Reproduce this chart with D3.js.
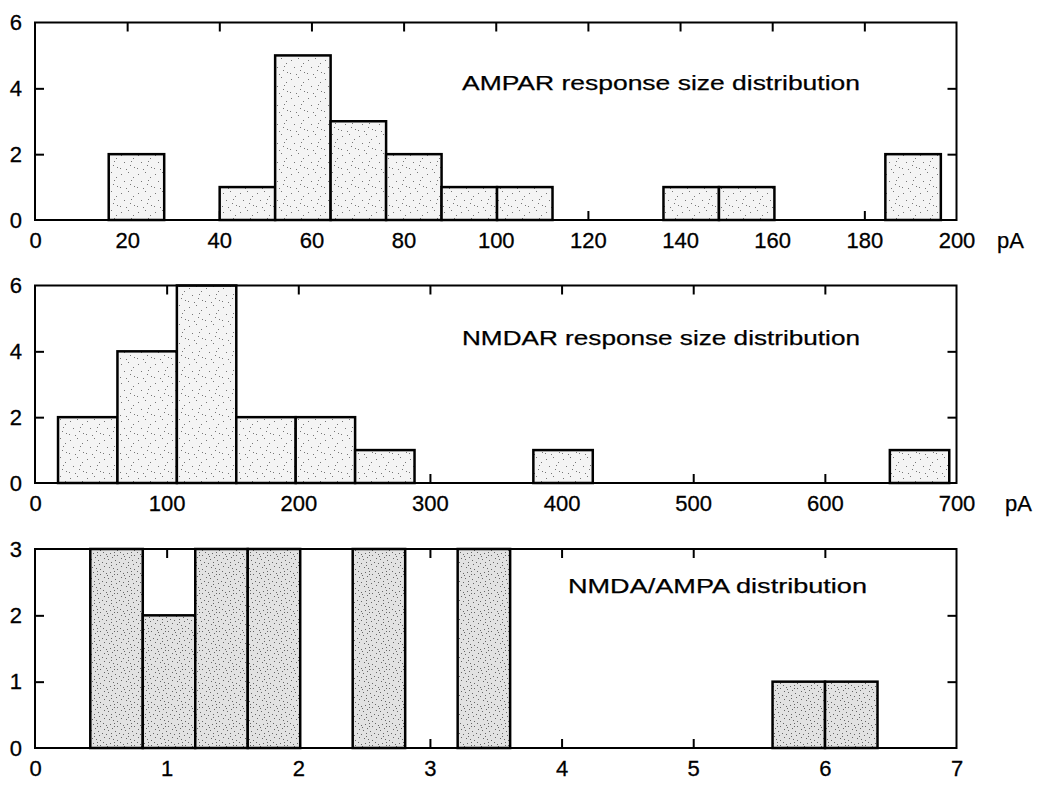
<!DOCTYPE html>
<html>
<head>
<meta charset="utf-8">
<script src="https://cdn.jsdelivr.net/npm/d3@7"></script>
<style>
  body { margin:0; background:#fff; }
  svg { display:block; }
  .tick text { font-family: "Liberation Sans", Arial, sans-serif; font-size:22px; fill:#000; stroke:#000; stroke-width:0.3px; }
  .ttl { font-family: "Liberation Sans", Arial, sans-serif; font-size:21px; fill:#000; stroke:#000; stroke-width:0.25px; }
</style>
</head>
<body>
<svg id="chart"></svg>
<script>
// histogram counts (15 bins each), bin range = [min, max] of the sample
var ampaCounts = [2,0,1,5,3,2,1,1,0,0,1,1,0,0,2];
var ampaRange = [16, 196.6];
var ampaTicksX = [0,20,40,60,80,100,120,140,160,180,200];
var ampaTicksY = [0,2,4,6];

var nmdaCounts = [2,4,6,2,2,1,0,0,1,0,0,0,0,0,1];
var nmdaRange = [17.5, 694.5];
var nmdaTicksX = [0,100,200,300,400,500,600,700];
var nmdaTicksY = [0,2,4,6];

var ratioCounts = [3,2,3,3,0,3,0,3,0,0,0,0,0,1,1];
var ratioRange = [0.42, 6.4];
var ratioTicksX = [0,1,2,3,4,5,6,7];
var ratioTicksY = [0,1,2,3];

var titles = ["AMPAR response size distribution", "NMDAR response size distribution", "NMDA/AMPA distribution"];
var unitLabel = "pA";

var W = 1048, H = 787;
var svg = d3.select("#chart").attr("width", W).attr("height", H);

// stipple fills
var defs = svg.append("defs");
function stipple(id, bg, dots, col){
    var p = defs.append("pattern").attr("id", id)
        .attr("patternUnits","userSpaceOnUse").attr("width",17).attr("height",19);
    p.append("rect").attr("width",17).attr("height",19).attr("fill",bg);
    dots.forEach(function(d){
        p.append("rect").attr("x",d[0]).attr("y",d[1]).attr("width",1).attr("height",1).attr("fill",col);
    });
}
var dotsLight = [[2,3],[9,1],[14,6],[5,10],[11,13],[1,16],[7,17],[15,15],[12,9]];
var dotsDense = [[1,1],[4,3],[8,2],[12,1],[15,4],[2,7],[6,8],[10,6],[13,9],[0,11],[4,12],[9,11],[14,13],[2,15],[7,16],[11,17],[15,18],[5,5],[9,14],[12,4]];
stipple("stipA", "#f4f4f4", dotsLight, "#777");
stipple("stipB", "#e2e2e2", dotsDense, "#666");

var left = 35, right = 956.5;
var fmt = d3.format("d");

function panel(top, height, counts, range, xTicks, yTicks, title, titleX, titleBase, titleLen, fillId, unit){
    var g = svg.append("g");
    var x = d3.scaleLinear().domain([xTicks[0], xTicks[xTicks.length-1]]).range([left, right]);
    var y = d3.scaleLinear().domain([yTicks[0], yTicks[yTicks.length-1]]).range([top+height, top]);

    var inner = xTicks.slice(1, -1), innerY = yTicks.slice(1, -1);
    // inside ticks all four sides
    g.append("g").attr("transform","translate(0,"+(top+height)+")")
        .call(d3.axisBottom(x).tickValues(xTicks).tickFormat(fmt).tickSize(-9).tickPadding(12))
        .call(function(a){ a.select(".domain").remove(); a.selectAll("line").attr("stroke","#000").attr("stroke-width",2)
            .filter(function(d){ return inner.indexOf(d) < 0; }).remove(); });
    g.append("g").attr("transform","translate(0,"+top+")")
        .call(d3.axisTop(x).tickValues(inner).tickSize(-9).tickFormat(""))
        .call(function(a){ a.select(".domain").remove(); a.selectAll("line").attr("stroke","#000").attr("stroke-width",2); });
    g.append("g").attr("transform","translate("+left+",0)")
        .call(d3.axisLeft(y).tickValues(yTicks).tickFormat(fmt).tickSize(-9).tickPadding(13))
        .call(function(a){ a.select(".domain").remove(); a.selectAll("line").attr("stroke","#000").attr("stroke-width",2)
            .filter(function(d){ return innerY.indexOf(d) < 0; }).remove(); });
    g.append("g").attr("transform","translate("+right+",0)")
        .call(d3.axisRight(y).tickValues(innerY).tickSize(-9).tickFormat(""))
        .call(function(a){ a.select(".domain").remove(); a.selectAll("line").attr("stroke","#000").attr("stroke-width",2); });
    g.selectAll(".tick text").attr("font-family", null).attr("font-size", null);

    // bins
    var n = counts.length, w = (range[1]-range[0])/n;
    var bins = counts.map(function(c,i){ return {x0: range[0]+i*w, x1: range[0]+(i+1)*w, c: c}; })
        .filter(function(d){ return d.c > 0; });
    g.selectAll("rect.bar").data(bins).enter().append("rect").attr("class","bar")
        .attr("x", function(d){ return x(d.x0); })
        .attr("width", function(d){ return x(d.x1)-x(d.x0); })
        .attr("y", function(d){ return y(d.c); })
        .attr("height", function(d){ return y(0)-y(d.c); })
        .attr("fill","url(#"+fillId+")").attr("stroke","#000").attr("stroke-width",2.5);

    // frame
    g.append("rect").attr("x",left).attr("y",top).attr("width",right-left).attr("height",height)
        .attr("fill","none").attr("stroke","#000").attr("stroke-width",2);

    g.append("text").attr("class","ttl").attr("x",titleX).attr("y",titleBase)
        .attr("textLength",titleLen).attr("lengthAdjust","spacingAndGlyphs").text(title);
    if(unit){
        g.append("text").attr("class","ttl").attr("x",unit.x).attr("y",top+height+28).style("font-size","22px").text(unitLabel);
    }
}

panel(22.5, 197.5, ampaCounts, ampaRange, ampaTicksX, ampaTicksY, titles[0], 462, 90, 398, "stipA", {x:997});
panel(285.5, 197.5, nmdaCounts, nmdaRange, nmdaTicksX, nmdaTicksY, titles[1], 462, 345, 398, "stipA", {x:1005});
panel(549, 199, ratioCounts, ratioRange, ratioTicksX, ratioTicksY, titles[2], 568, 593, 299, "stipB", null);
</script>
</body>
</html>
